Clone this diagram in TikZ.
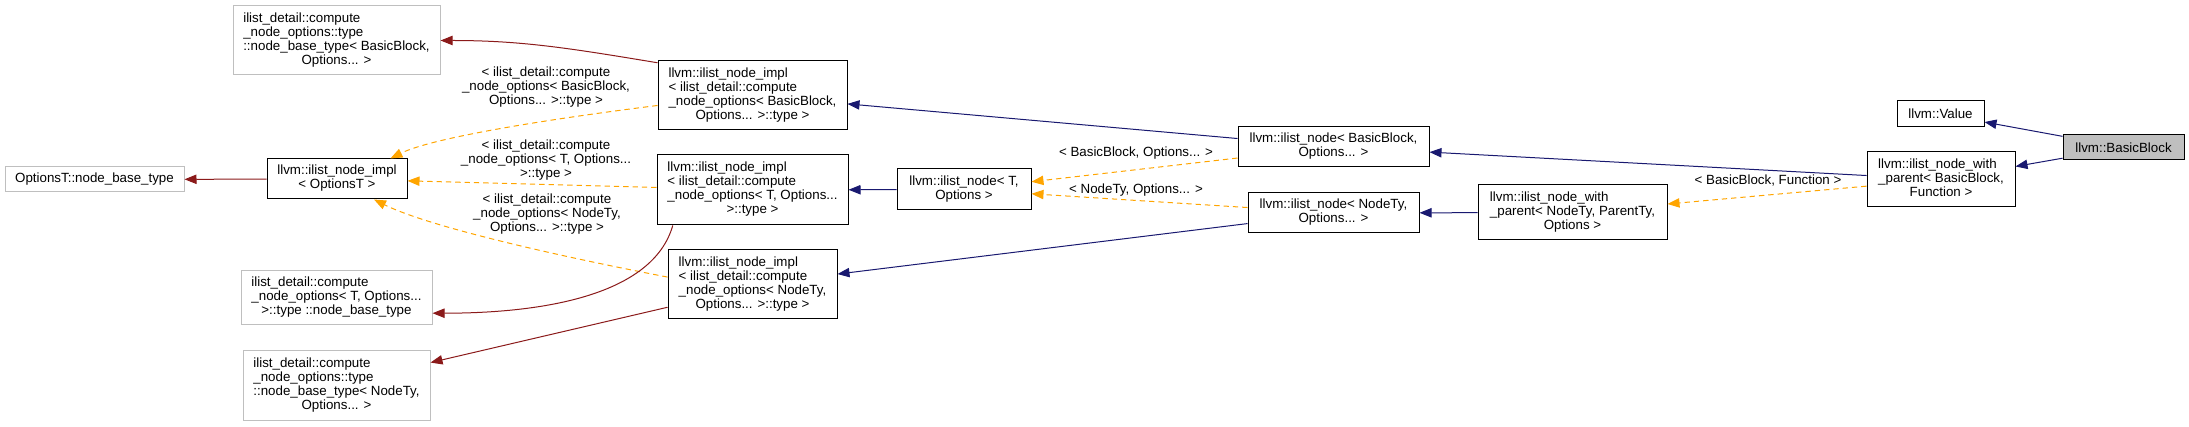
\documentclass[tikz,border=0pt]{standalone}
\usepackage{fontspec}
\setmainfont{Liberation Sans}
\usetikzlibrary{arrows.meta}
\definecolor{midnightblue}{HTML}{191970}
\definecolor{firebrick}{HTML}{8B1A1A}
\definecolor{doxyorange}{HTML}{FFA500}
\definecolor{boxgray}{HTML}{BFBFBF}
\newcommand{\nodetext}[1]{\begin{tabular}{@{}l@{}}#1\end{tabular}}
\newcommand{\lastln}[1]{\multicolumn{1}{@{}c@{}}{#1}}

\begin{document}
\begin{tikzpicture}[x=0.75pt, y=-0.75pt]
        \tikzstyle{every node}=[font=\fontsize{10}{10.5}\selectfont, inner sep=0pt]
        \tikzstyle{klass}=[draw=black, fill=white, line width=0.75pt]
        \tikzstyle{ext}=[draw=boxgray, fill=white, line width=0.75pt]
        \tikzstyle{pub}=[draw=midnightblue, line width=0.75pt, -{Triangle[length=9pt,width=7pt]}]
        \tikzstyle{tmpl}=[draw=doxyorange, line width=0.75pt, dash pattern=on 4pt off 3pt, -{Triangle[length=9pt,width=7pt]}]
        \tikzstyle{usage}=[draw=firebrick, line width=0.75pt, -{Triangle[length=9pt,width=7pt]}]

        \useasboundingbox (0,0) rectangle (2189,427);

% classes of the graph, from BasicBlock to the left
        \node[klass, fill=boxgray, minimum width=90.75pt, minimum height=18.75pt] (bb) at (2123.5,147.5) {llvm::BasicBlock};
        \node[klass, minimum width=65.25pt, minimum height=19.5pt] (value) at (1940.5,114) {llvm::Value};
        \node[klass, minimum width=111pt, minimum height=41.25pt] (wpbb) at (1941,179.5) {\nodetext{llvm::ilist\_node\_with\\ \_parent< BasicBlock,\\ \lastln{Function >}}};
        \node[klass, minimum width=141.75pt, minimum height=41.25pt] (wpnt) at (1572.5,212.5) {\nodetext{llvm::ilist\_node\_with\\ \_parent< NodeTy, ParentTy,\\ \lastln{Options >}}};
        \node[klass, minimum width=143.25pt, minimum height=30pt] (nodebb) at (1333.5,147) {\nodetext{llvm::ilist\_node< BasicBlock,\\ \lastln{Options... >}}};
        \node[klass, minimum width=128.25pt, minimum height=30pt] (nodent) at (1333.5,213) {\nodetext{llvm::ilist\_node< NodeTy,\\ \lastln{Options... >}}};
        \node[klass, minimum width=100.5pt, minimum height=30.75pt] (nodet) at (964,189.5) {\nodetext{llvm::ilist\_node< T,\\ \lastln{Options >}}};
        \node[klass, minimum width=141.75pt, minimum height=51.75pt] (implbb) at (752.5,95.5) {\nodetext{llvm::ilist\_node\_impl\\ < ilist\_detail::compute\\ \_node\_options< BasicBlock,\\ \lastln{Options... >::type >}}};
        \node[klass, minimum width=143.25pt, minimum height=52.5pt] (implt) at (752.5,190) {\nodetext{llvm::ilist\_node\_impl\\ < ilist\_detail::compute\\ \_node\_options< T, Options...\\ \lastln{>::type >}}};
        \node[klass, minimum width=126.75pt, minimum height=51.75pt] (implnt) at (752.5,284.5) {\nodetext{llvm::ilist\_node\_impl\\ < ilist\_detail::compute\\ \_node\_options< NodeTy,\\ \lastln{Options... >::type >}}};
        \node[klass, minimum width=105pt, minimum height=30pt] (implopt) at (337,179) {\nodetext{llvm::ilist\_node\_impl\\ \lastln{< OptionsT >}}};
        \node[ext, minimum width=134.25pt, minimum height=18.75pt] (obase) at (94.5,179.5) {OptionsT::node\_base\_type};
        \node[ext, minimum width=155.25pt, minimum height=51.75pt] (ndbb) at (336.5,40.5) {\nodetext{ilist\_detail::compute\\ \_node\_options::type\\ ::node\_base\_type< BasicBlock,\\ \lastln{Options... >}}};
        \node[ext, minimum width=143.25pt, minimum height=40.5pt] (ndt) at (336.5,298) {\nodetext{ilist\_detail::compute\\ \_node\_options< T, Options...\\ \lastln{>::type ::node\_base\_type}}};
        \node[ext, minimum width=140.25pt, minimum height=52.5pt] (ndnt) at (336.5,386) {\nodetext{ilist\_detail::compute\\ \_node\_options::type\\ ::node\_base\_type< NodeTy,\\ \lastln{Options... >}}};

% template arguments
        \node (lwp) at (1768,181) {< BasicBlock, Function >};
        \node (lnbb) at (1136,153) {< BasicBlock, Options... >};
        \node (lnnt) at (1136,190) {< NodeTy, Options... >};
        \node[align=center] (libb) at (546,87) {< ilist\_detail::compute\\ \_node\_options< BasicBlock,\\ Options... >::type >};
        \node[align=center] (lit) at (546,160) {< ilist\_detail::compute\\ \_node\_options< T, Options...\\ >::type >};
        \node[align=center] (lint) at (547,214) {< ilist\_detail::compute\\ \_node\_options< NodeTy,\\ Options... >::type >};

% inheritance
        \draw[pub] (bb) -- (value);
        \draw[pub] (bb) -- (wpbb);
        \draw[pub] (wpbb) -- (nodebb);
        \draw[pub] (wpnt) -- (nodent);
        \draw[pub] (nodebb) -- (implbb);
        \draw[pub] (nodet) -- (implt);
        \draw[pub] (nodent) -- (implnt);

        \draw[tmpl] (wpbb) -- (wpnt);
        \draw[tmpl] (nodebb) -- (nodet);
        \draw[tmpl] (nodent) -- (nodet);
        \draw[tmpl] (implbb.186) .. controls +(-120,15) and +(40,-20) .. (implopt.21);
        \draw[tmpl] (implt) -- (implopt);
        \draw[tmpl] (implnt.175) .. controls +(-130,-25) and +(50,25) .. (implopt.331);

        \draw[usage] (implopt) -- (obase);
        \draw[usage] (implbb.161) .. controls +(-90,-15) and +(80,0) .. (ndbb.east);
        \draw[usage] (implt.204) .. controls +(-20,70) and +(110,0) .. (ndt.351);
        \draw[usage] (implnt.195) -- (ndnt.14);

    \end{tikzpicture}
\end{document}
